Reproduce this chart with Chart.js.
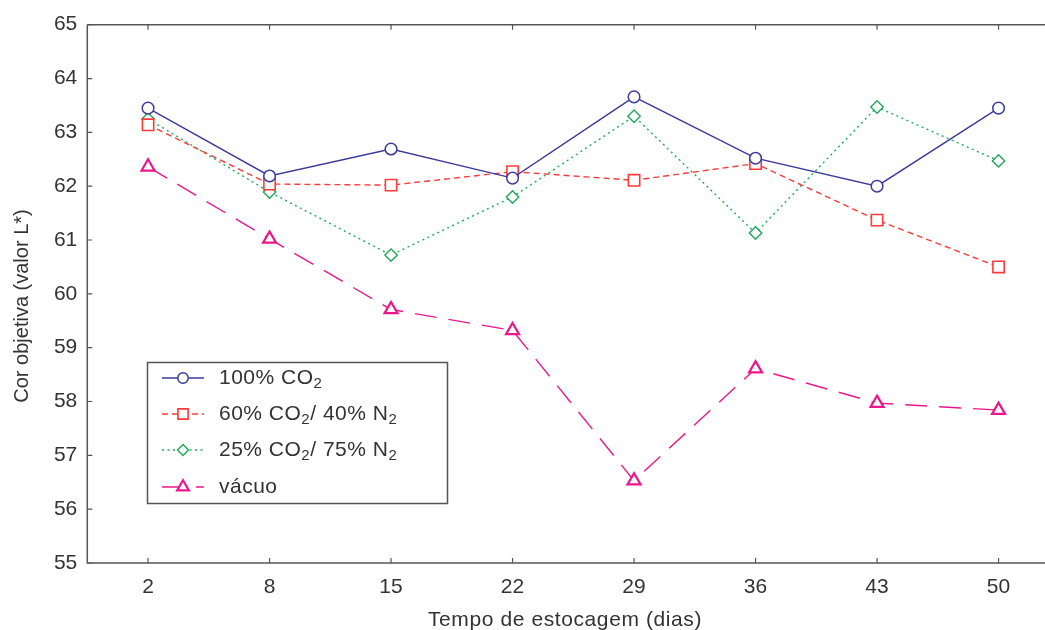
<!DOCTYPE html>
<html>
<head>
<meta charset="utf-8">
<script src="https://cdn.jsdelivr.net/npm/chart.js@4.4.0/dist/chart.umd.min.js"></script>
<style>
  html, body { margin: 0; padding: 0; overflow: hidden; background: #fff; }
  #wrap { position: absolute; left: 0; top: 0; width: 1069px; height: 630px; }
</style>
</head>
<body>
<div id="wrap"><canvas id="c"></canvas></div>
<script>
const categories = ['2', '8', '15', '22', '29', '36', '43', '50'];
const co2_100 = [63.45, 62.19, 62.69, 62.15, 63.66, 62.52, 62.00, 63.45];
const co2_60 = [63.14, 62.04, 62.02, 62.27, 62.11, 62.42, 61.37, 60.50];
const co2_25 = [63.25, 61.89, 60.72, 61.80, 63.30, 61.13, 63.47, 62.47];
const vacuo = [62.36, 61.02, 59.71, 59.32, 56.53, 58.61, 57.97, 57.84];
const seriesNames = [
  [['100% CO', 0], ['2', 1]],
  [['60% CO', 0], ['2', 1], ['/ 40% N', 0], ['2', 1]],
  [['25% CO', 0], ['2', 1], ['/ 75% N', 0], ['2', 1]],
  [['vácuo', 0]]
];
const yTicks = [55, 56, 57, 58, 59, 60, 61, 62, 63, 64, 65];
const xTitle = 'Tempo de estocagem (dias)';
const yTitle = 'Cor objetiva (valor L*)';

const FONT = '"Liberation Sans", Arial, Helvetica, sans-serif';
const AXIS = '#555555';
const TXT = '#333333';

function ds(data, color, dash, style, radius, pw) {
  return {
    data: data, borderColor: color, backgroundColor: '#ffffff',
    borderWidth: 1.4, borderDash: dash, tension: 0,
    pointStyle: style, pointRadius: radius, pointHoverRadius: radius,
    pointBorderColor: color, pointBackgroundColor: '#ffffff', pointBorderWidth: pw
  };
}

const framePlugin = {
  id: 'frame',
  afterDraw(chart) {
    const ctx = chart.ctx;
    const a = chart.chartArea;
    const xs = chart.scales.x, ys = chart.scales.y;
    ctx.save();
    ctx.strokeStyle = AXIS;
    ctx.lineWidth = 1.5;
    ctx.setLineDash([]);
    ctx.beginPath();
    ctx.moveTo(a.left, a.top); ctx.lineTo(a.right + 5, a.top);
    ctx.moveTo(a.left, a.top); ctx.lineTo(a.left, a.bottom);
    ctx.lineTo(a.right + 5, a.bottom);
    ctx.stroke();
    ctx.lineWidth = 1.2;
    ctx.beginPath();
    yTicks.forEach(v => {
      const y = ys.getPixelForValue(v);
      ctx.moveTo(a.left, y); ctx.lineTo(a.left + 5, y);
    });
    categories.forEach((c, i) => {
      const x = xs.getPixelForValue(i);
      ctx.moveTo(x, a.bottom); ctx.lineTo(x, a.bottom - 5);
      ctx.moveTo(x, a.top); ctx.lineTo(x, a.top + 5);
    });
    ctx.stroke();

    // axis titles
    ctx.fillStyle = TXT;
    ctx.font = '21px ' + FONT;
    ctx.textAlign = 'center';
    ctx.textBaseline = 'middle';
    ctx.letterSpacing = '0.6px';
    ctx.fillText(xTitle, 565, 620);
    ctx.letterSpacing = '0px';
    ctx.save();
    ctx.translate(22, 306);
    ctx.rotate(-Math.PI / 2);
    ctx.font = '20px ' + FONT;
    ctx.fillText(yTitle, 0, 0);
    ctx.restore();

    // legend
    const bx = 147.5, by = 362.5, bw = 300, bh = 141;
    ctx.fillStyle = '#ffffff';
    ctx.fillRect(bx, by, bw, bh);
    ctx.strokeStyle = AXIS;
    ctx.lineWidth = 1.5;
    ctx.strokeRect(bx, by, bw, bh);
    const rows = [378, 414, 450, 487];
    chart.data.datasets.forEach((d, i) => {
      const y = rows[i];
      ctx.strokeStyle = d.borderColor;
      ctx.lineWidth = d.borderWidth;
      ctx.setLineDash(d.borderDash);
      ctx.beginPath();
      ctx.moveTo(162, y); ctx.lineTo(204, y);
      ctx.stroke();
      ctx.setLineDash([]);
      ctx.fillStyle = '#ffffff';
      ctx.strokeStyle = d.borderColor;
      ctx.lineWidth = d.pointBorderWidth;
      Chart.helpers.drawPoint(ctx, { pointStyle: d.pointStyle, radius: d.pointRadius * 0.9, rotation: 0, borderWidth: d.pointBorderWidth }, 183, y);
      let x = 219;
      ctx.textAlign = 'left';
      ctx.textBaseline = 'middle';
      ctx.fillStyle = TXT;
      ctx.letterSpacing = '0.5px';
      seriesNames[i].forEach(([t, sub]) => {
        if (sub) {
          ctx.font = '15px ' + FONT;
          ctx.fillText(t, x, y + 6);
        } else {
          ctx.font = '21px ' + FONT;
          ctx.fillText(t, x, y);
        }
        x += ctx.measureText(t).width;
      });
      ctx.letterSpacing = '0px';
    });
    ctx.restore();
  }
};

new Chart(document.getElementById('c'), {
  type: 'line',
  data: {
    labels: categories,
    datasets: [
      ds(co2_100, '#3b3b9c', [], 'circle', 5.8, 1.5),
      ds(co2_60, '#ff3a3a', [6, 4], 'rect', 8, 1.6),
      ds(co2_25, '#1faa5a', [2, 3.5], 'rectRot', 6.2, 1.4),
      ds(vacuo, '#eb178c', [22, 12], 'triangle', 7.5, 2.2)
    ]
  },
  options: {
    responsive: true,
    maintainAspectRatio: false,
    animation: false,
    layout: { padding: { top: 24.7, right: 0, left: 0, bottom: 0 } },
    plugins: { legend: { display: false }, tooltip: { enabled: false } },
    scales: {
      x: {
        type: 'category',
        offset: true,
        grid: { display: false, drawTicks: false },
        border: { display: false },
        ticks: { color: TXT, font: { family: FONT, size: 21 }, padding: 12, maxRotation: 0 },
        afterFit(s) { s.height = 67; }
      },
      y: {
        min: 55, max: 65,
        grid: { display: false, drawTicks: false },
        border: { display: false },
        ticks: { stepSize: 1, color: TXT, font: { family: FONT, size: 21 }, padding: 10 },
        afterFit(s) { s.width = 87.3; }
      }
    }
  },
  plugins: [framePlugin]
});
</script>
</body>
</html>
